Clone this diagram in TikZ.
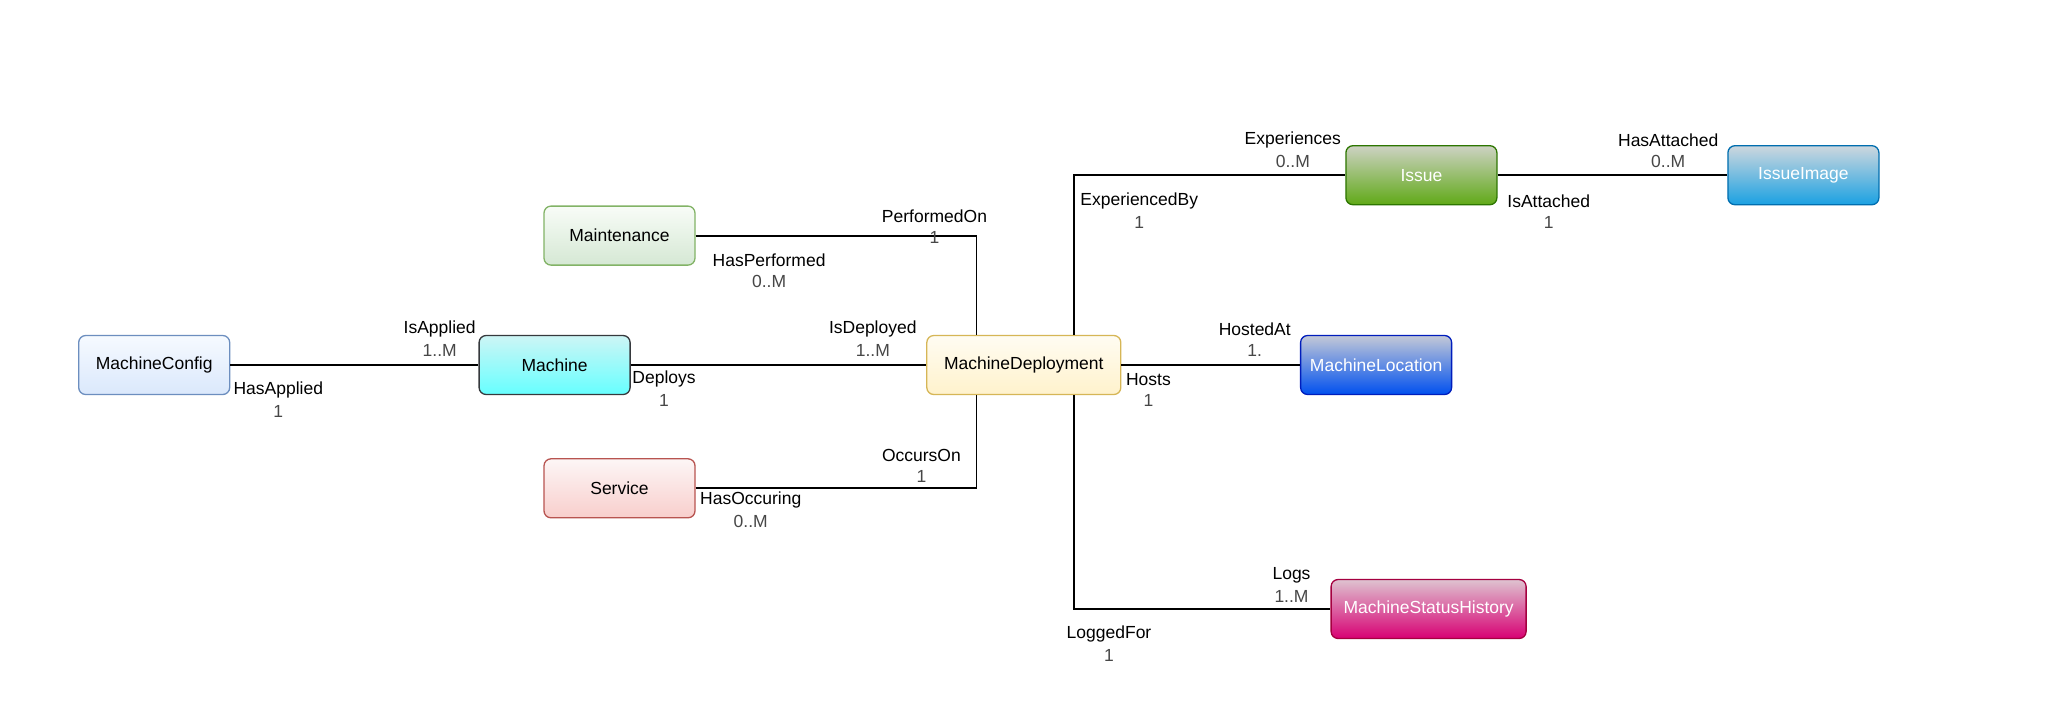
\documentclass[tikz,border=0pt]{standalone}
\usepackage{fontspec}
\setmainfont{Liberation Sans}
\begin{document}
\begin{tikzpicture}[x=1pt,y=-1pt,
  ent/.style={draw,line width=1.3pt,rounded corners=7pt,minimum height=59pt,minimum width=151pt,inner sep=0pt,font=\fontsize{17.5}{20}\selectfont},
  conn/.style={line width=1.8pt,draw=black},
  nm/.style={font=\fontsize{17.5}{20}\selectfont,inner sep=0pt,text=black},
  card/.style={font=\fontsize{17.5}{20}\selectfont,inner sep=0pt,text=black!72}]
\useasboundingbox (0,0) rectangle (2058,713);
\fill[white] (0,0) rectangle (2058,713);
% entities
\node[ent,draw={rgb,255:red,108;green,142;blue,191},top color={rgb,255:red,246;green,250;blue,255},bottom color={rgb,255:red,218;green,232;blue,252}] (MC) at (154.2,365) {MachineConfig};
\node[ent,draw={rgb,255:red,54;green,57;blue,61},top color={rgb,255:red,205;green,245;blue,245},bottom color={rgb,255:red,102;green,255;blue,255}] (M) at (554.6,365) {Machine};
\node[ent,draw={rgb,255:red,130;green,179;blue,102},top color={rgb,255:red,248;green,252;blue,247},bottom color={rgb,255:red,213;green,232;blue,212}] (MT) at (619.5,235.6) {Maintenance};
\node[ent,draw={rgb,255:red,184;green,84;blue,80},top color={rgb,255:red,253;green,246;blue,246},bottom color={rgb,255:red,248;green,206;blue,204}] (SV) at (619.5,488.3) {Service};
\node[ent,minimum width=194pt,draw={rgb,255:red,214;green,182;blue,86},top color={rgb,255:red,255;green,252;blue,242},bottom color={rgb,255:red,255;green,242;blue,204}] (MD) at (1023.8,365) {MachineDeployment};
\node[ent,text=white,draw={rgb,255:red,45;green,118;blue,0},top color={rgb,255:red,205;green,210;blue,195},bottom color={rgb,255:red,96;green,169;blue,23}] (IS) at (1421.4,175.2) {Issue};
\node[ent,text=white,draw={rgb,255:red,0;green,110;blue,175},top color={rgb,255:red,205;green,215;blue,222},bottom color={rgb,255:red,27;green,161;blue,226}] (II) at (1803.4,175.2) {IssueImage};
\node[ent,text=white,draw={rgb,255:red,0;green,29;blue,188},top color={rgb,255:red,195;green,200;blue,215},bottom color={rgb,255:red,0;green,80;blue,239}] (ML) at (1376.1,365) {MachineLocation};
\node[ent,text=white,minimum width=195pt,draw={rgb,255:red,165;green,0;blue,64},top color={rgb,255:red,222;green,195;blue,208},bottom color={rgb,255:red,216;green,0;blue,115}] (MS) at (1428.6,609) {MachineStatusHistory};
% connectors
\draw[conn] (MC.east) -- (M.west);
\draw[conn] (M.east) -- (MD.west);
\draw[conn] (MT.east) -| ([xshift=-47.3pt]MD.north);
\draw[conn] (SV.east) -| ([xshift=-47.3pt]MD.south);
\draw[conn] ([xshift=49.8pt]MD.north) |- (IS.west);
\draw[conn] (IS.east) -- (II.west);
\draw[conn] (MD.east) -- (ML.west);
\draw[conn] ([xshift=49.8pt]MD.south) |- (MS.west);
% labels
\newcommand\rl[5]{\node[nm] (#1a) at (#2,#3) {#4};\node[card] (#1b) at (#2,#3+21.5) {#5};}
\rl{la}{439.7}{329.4}{IsApplied}{1..M}
\rl{lb}{278.3}{389.8}{HasApplied}{1}
\rl{lc}{664.1}{379.3}{Deploys}{1}
\rl{ld}{872.8}{329.4}{IsDeployed}{1..M}
\rl{le}{934.5}{215.8}{PerformedOn}{1}
\rl{lf}{769.1}{259.9}{HasPerformed}{0..M}
\rl{lg}{921.4}{455.4}{OccursOn}{1}
\rl{lh}{750.75}{500.1}{HasOccuring}{0..M}
\rl{li}{1292.8}{140.4}{Experiences}{0..M}
\rl{lj}{1139.25}{200.8}{ExperiencedBy}{1}
\rl{lk}{1668.2}{140.4}{HasAttached}{0..M}
\rl{ll}{1548.75}{200.8}{IsAttached}{1}
\rl{lm}{1254.75}{329.4}{HostedAt}{1.}
\rl{ln}{1148.4}{379.3}{Hosts}{1}
\rl{lo}{1291.5}{574.9}{Logs}{1..M}
\rl{lp}{1109}{633.9}{LoggedFor}{1}
\end{tikzpicture}
\end{document}
